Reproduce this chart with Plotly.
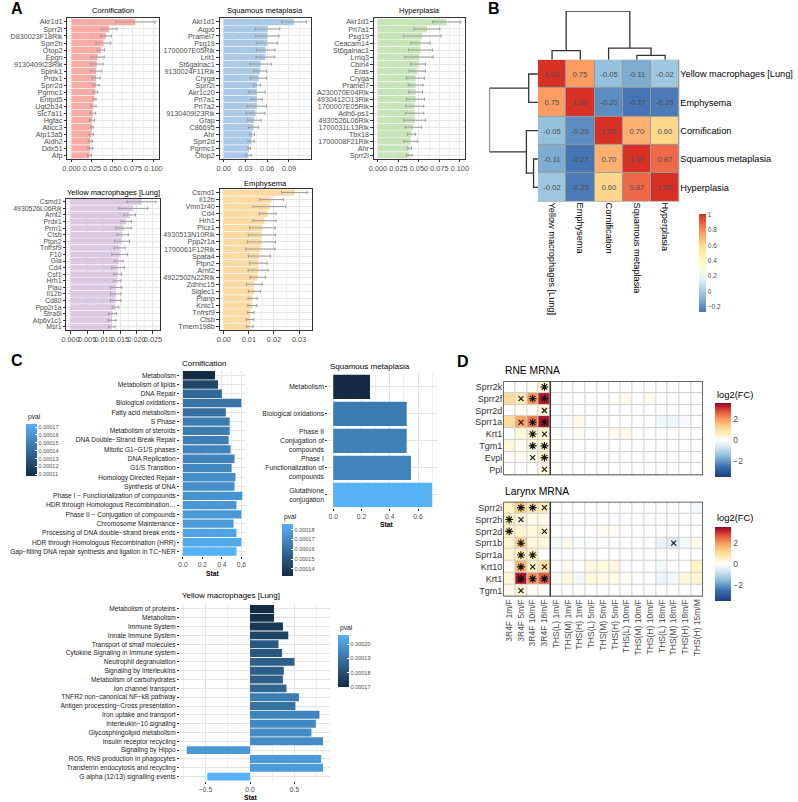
import plotly.graph_objects as go

W, H = 798, 802
FONT = "Liberation Sans, Arial, Helvetica, sans-serif"
G30 = "#4d4d4d"

# ---------------- Panel A data ----------------
corn_genes = ["Akr1d1", "Sprr2i", "D830023F18Rik", "Sprr2h", "Otop2", "Epgn", "9130409I23Rik", "Spink1",
              "Prdx1", "Sprr2d", "Pgrmc1", "Entpd5", "Ugt2b34", "Slc7a11", "Hgfac", "Abcc3", "Atp13a5",
              "Aldh2", "Ddx51", "Afp"]
corn_mean = [0.078, 0.046, 0.042, 0.039, 0.036, 0.032, 0.031, 0.030, 0.030, 0.030, 0.029, 0.028, 0.027,
             0.026, 0.025, 0.025, 0.024, 0.023, 0.023, 0.022]
corn_sd = [0.024, 0.0096, 0.0066, 0.009, 0.0044, 0.008, 0.0076, 0.007, 0.005, 0.004, 0.003, 0.002, 0.003,
           0.0035, 0.003, 0.0015, 0.0026, 0.0026, 0.003, 0.0024]

sq_genes = ["Akr1d1", "Aqp6", "Pramel7", "Psg19", "1700007E05Rik", "Lrit1", "St6galnac1", "9130024F11Rik",
            "Cryga", "Sprr2i", "Akr1c20", "Prl7a1", "Prl7a2", "9130409I23Rik", "Gfap", "C86695", "Ahr",
            "Sprr2d", "Pgrmc1", "Otop2"]
sq_mean = [0.097, 0.0605, 0.0600, 0.0595, 0.058, 0.0575, 0.051, 0.050, 0.048, 0.046, 0.0458, 0.0457, 0.0456,
           0.0439, 0.0419, 0.0412, 0.0392, 0.038, 0.0352, 0.034]
sq_sd = [0.017, 0.0168, 0.0163, 0.0146, 0.0128, 0.0128, 0.0146, 0.009, 0.0112, 0.005, 0.0112, 0.0078, 0.0134,
         0.013, 0.0096, 0.0067, 0.0034, 0.0045, 0.0016, 0.004]

hyp_genes = ["Akr1d1", "Prl7a1", "Psg19", "Ceacam14", "St6galnac1", "Lrriq3", "Cbln4", "Eras", "Cryga",
             "Pramel7", "A230070E04Rik", "4930412O13Rik", "1700007E05Rik", "Adh6-ps1", "4930526L06Rik",
             "1700031L13Rik", "Tbx18", "1700008F21Rik", "Ahr", "Sprr2i"]
hyp_mean = [0.084, 0.060, 0.054, 0.052, 0.052, 0.050, 0.049, 0.048, 0.046, 0.046, 0.046, 0.046, 0.045, 0.045,
            0.045, 0.043, 0.041, 0.040, 0.0385, 0.0385]
hyp_sd = [0.017, 0.0157, 0.023, 0.012, 0.0145, 0.0175, 0.009, 0.010, 0.011, 0.009, 0.0085, 0.011, 0.011,
          0.011, 0.013, 0.010, 0.005, 0.0085, 0.0025, 0.0035]

yel_genes = ["Csmd1", "4930526L06Rik", "Arnt2", "Prdx1", "Prrn1", "Ctsb", "Ptpn2", "Tnfrsf9", "F10", "Gla",
             "Cd4", "Csf1", "Hrh1", "Plau", "Il12b", "Cd80", "Ppp2r1a", "Stra6l", "Atp6v1c1", "Msr1"]
yel_mean = [0.0215, 0.0190, 0.0179, 0.0169, 0.0161, 0.0158, 0.0156, 0.0149, 0.0149, 0.0146, 0.0144, 0.0143,
            0.0142, 0.0138, 0.0137, 0.0137, 0.0136, 0.0127, 0.0126, 0.0125]
yel_sd = [0.0044, 0.0044, 0.0018, 0.0016, 0.0023, 0.0017, 0.0023, 0.0016, 0.0024, 0.0013, 0.0019, 0.0012,
          0.0011, 0.0017, 0.0016, 0.0016, 0.0010, 0.0012, 0.0012, 0.0010]

emph_genes = ["Csmd1", "Il12b", "Vmn1r40", "Cd4", "Hrh1", "Plcz1", "4930513N10Rik", "Ppp2r1a",
              "1700061F12Rik", "Spata4", "Ptpn2", "Arnt2", "4922502N22Rik", "Zdhhc15", "Siglec1", "Pianp",
              "Kntc1", "Tnfrsf9", "Ctsb", "Tmem198b"]
emph_mean = [0.0282, 0.0190, 0.0182, 0.0175, 0.0162, 0.0154, 0.0152, 0.0150, 0.0146, 0.0142, 0.0138, 0.0137,
             0.0135, 0.0122, 0.0122, 0.0115, 0.0114, 0.0107, 0.0105, 0.0104]
emph_sd = [0.0051, 0.0048, 0.0065, 0.0033, 0.0046, 0.0051, 0.0054, 0.0056, 0.0059, 0.0044, 0.0035, 0.0040,
           0.0031, 0.0031, 0.0024, 0.0018, 0.0018, 0.0013, 0.0015, 0.0013]

# ---------------- Panel B data ----------------
b_labels = ["Yellow macrophages [Lung]", "Emphysema", "Cornification", "Squamous metaplasia", "Hyperplasia"]
b_corr = [[1.00, 0.75, -0.05, -0.11, -0.02],
          [0.75, 1.00, -0.20, -0.27, -0.25],
          [-0.05, -0.20, 1.00, 0.70, 0.60],
          [-0.11, -0.27, 0.70, 1.00, 0.87],
          [-0.02, -0.25, 0.60, 0.87, 1.00]]
# merges: (left id, right id, height); ids >= 5 refer to earlier merges
b_merges = [(0, 1, 0.19), (3, 4, 0.09), (2, 6, 0.238), (5, 7, 1.0)]
b_ticks = [1, 0.8, 0.6, 0.4, 0.2, 0, -0.2]

# ---------------- Panel C data ----------------
c1_terms = ["Metabolism", "Metabolism of lipids", "DNA Repair", "Biological oxidations", "Fatty acid metabolism",
            "S Phase", "Metabolism of steroids", "DNA Double\u2212Strand Break Repair", "Mitotic G1\u2212G1/S phases",
            "DNA Replication", "G1/S Transition", "Homology Directed Repair", "Synthesis of DNA",
            "Phase I \u2212 Functionalization of compounds", "HDR through Homologous Recombination\u2026",
            "Phase II \u2212 Conjugation of compounds", "Chromosome Maintenance",
            "Processing of DNA double\u2212strand break ends", "HDR through Homologous Recombination (HRR)",
            "Gap\u2212filling DNA repair synthesis and ligation in TC\u2212NER"]
c1_stat = [0.33, 0.36, 0.40, 0.60, 0.44, 0.48, 0.48, 0.47, 0.49, 0.53, 0.50, 0.54, 0.53, 0.61, 0.55, 0.60,
           0.52, 0.55, 0.60, 0.55]
c1_pval = [0.000108, 0.000121, 0.000138, 0.000144, 0.000141, 0.000148, 0.000148, 0.000149, 0.000152, 0.000152,
           0.000154, 0.000157, 0.000157, 0.000159, 0.000161, 0.000162, 0.000163, 0.000167, 0.000170, 0.000174]
c1_ticks = [0.00011, 0.00012, 0.00013, 0.00014, 0.00015, 0.00016, 0.00017]

c2_terms = ["Metabolism", "Biological oxidations", "Phase II<br>Conjugation of<br>compounds",
            "Phase I<br>Functionalization of<br>compounds", "Glutathione<br>conjugation"]
c2_stat = [0.26, 0.52, 0.52, 0.55, 0.70]
c2_pval = [0.000133, 0.000165, 0.000167, 0.000168, 0.000186]
c2_ticks = [0.00014, 0.00015, 0.00016, 0.00017, 0.00018]

c3_terms = ["Metabolism of proteins", "Metabolism", "Immune System", "Innate Immune System",
            "Transport of small molecules", "Cytokine Signaling in Immune system", "Neutrophil degranulation",
            "Signaling by Interleukins", "Metabolism of carbohydrates", "Ion channel transport",
            "TNFR2 non\u2212canonical NF\u2212kB pathway", "Antigen processing\u2212Cross presentation",
            "Iron uptake and transport", "Interleukin\u221210 signaling", "Glycosphingolipid metabolism",
            "Insulin receptor recycling", "Signaling by Hippo", "ROS, RNS production in phagocytes",
            "Transferrin endocytosis and recycling", "G alpha (12/13) signalling events"]
c3_stat = [0.27, 0.27, 0.37, 0.43, 0.32, 0.36, 0.50, 0.38, 0.37, 0.41, 0.55, 0.51, 0.78, 0.74, 0.69, 0.82,
           -0.71, 0.80, 0.82, -0.48]
c3_pval = [0.000170, 0.000171, 0.000173, 0.000177, 0.000182, 0.000182, 0.000184, 0.000184, 0.000184, 0.000186,
           0.000192, 0.000189, 0.000194, 0.000195, 0.000196, 0.000196, 0.000199, 0.000200, 0.000200, 0.000206]
c3_ticks = [0.00017, 0.00018, 0.00019, 0.00020]

# ---------------- Panel D data ----------------
d_cols = ["3R4F 1m/F", "3R4F 5m/F", "3R4F 10m/F", "3R4F 18m/F", "THS(L) 1m/F", "THS(M) 1m/F", "THS(H) 1m/F",
          "THS(L) 5m/F", "THS(M) 5m/F", "THS(H) 5m/F", "THS(L) 10m/F", "THS(M) 10m/F", "THS(H) 10m/F",
          "THS(L) 18m/F", "THS(M) 18m/F", "THS(H) 18m/F", "THS(H) 15m/M"]
rne_genes = ["Sprr2k", "Sprr2f", "Sprr2d", "Sprr1a", "Krt1", "Tgm1", "Evpl", "Ppl"]
rne_fc = [
    [0, 0, 0.05, 0.4, 0, 0, 0, 0, 0, 0, 0, 0, 0, 0, 0, 0, 0],
    [1.0, 0.7, 2.0, 3.2, 0, 0, 0, 0, 0, 0.05, 0.15, 0, 0.15, 0, 0, 0, 0],
    [0, 0.1, 0.1, 0.35, -0.05, 0, 0, 0, 0, 0, 0, 0, 0, 0, 0, 0, 0],
    [1.0, 1.8, 2.3, 3.3, -0.15, -0.1, 0.2, -0.1, 0, 0, 0, 0, 0, -0.2, -0.25, -0.15, 0],
    [0, 0.3, 0.5, 0.4, 0, 0, 0.1, 0, 0, 0.15, 0.2, 0, 0, 0, 0, 0, 0],
    [0.35, 0.1, 0.3, 0.4, 0, 0, 0, 0, 0, 0, 0, 0, 0, 0, 0, 0, 0],
    [0.1, 0.1, 0.1, 0.5, 0, 0, 0, 0, 0, 0, 0, 0, 0, 0, 0, 0, 0],
    [0, 0, 0, 0.25, 0, 0, 0, 0, 0, 0, 0, 0, 0, 0, 0, 0, 0],
]
rne_sig = ["...*.............", ".x**.............", "...x.............", ".x**.............",
           "..*x.............", "..**.............", "..x*.............", "...x............."]

lar_genes = ["Sprr2i", "Sprr2h", "Sprr2d", "Sprr1b", "Sprr1a", "Krt10", "Krt1", "Tgm1"]
lar_fc = [
    [0.5, 1.3, 0.7, 0.6, 0, 0, 0, 0, 0, 0, 0, 0, 0, 0, 0, 0, -0.2],
    [0.6, 0.3, 0.2, 0.2, 0, 0, 0, 0, 0, 0, 0, 0, 0, 0, 0, 0, 0],
    [0.5, 0.4, 0.3, 0.4, 0, 0, 0, 0, 0.1, 0.1, 0, 0, 0, 0, 0, 0, 0],
    [0.4, 1.3, 0.3, 0.3, -0.15, 0.2, -0.1, 0, 0, 0, 0, 0, 0, -0.35, -0.5, -0.2, 0.2],
    [0.4, 0.6, 0.5, 0.05, 0, 0, 0, 0, 0, 0, 0, 0, 0, 0, 0, 0, 0],
    [0.15, 1.6, 0.5, 0.9, 0, 0.15, 0, 0.25, 0.3, 0.25, -0.1, 0, 0, -0.2, 0, 0, 0.5],
    [0.35, 3.3, 2.1, 2.6, 0.1, 0.3, -0.2, 0.3, 0.2, 0.2, 0.1, 0, 0, -0.3, -0.2, 0.3, 0.4],
    [0.2, 0.4, 0.1, 0.05, 0, 0, 0, 0, 0, 0, 0, 0, 0, 0, 0, 0, 0],
]
lar_sig = [".**x.............", "*x...............", "*..x.............", ".*............x..",
           ".**..............", ".*xx.............", ".***.............", ".x..............."]
d_ticks = [-2, 0, 2]

# ---------------- helpers ----------------
def xd(x0, x1):
    return [x0 / W, x1 / W]

def yd(y0, y1):
    return [1 - y1 / H, 1 - y0 / H]

def px(x):
    return x / W

def py(y):
    return 1 - y / H

def axn(n):
    return ("xaxis" if n == 1 else f"xaxis{n}", "yaxis" if n == 1 else f"yaxis{n}")

def refn(n):
    return ("x" if n == 1 else f"x{n}", "y" if n == 1 else f"y{n}")

fig = go.Figure()
lay = dict(width=W, height=H, margin=dict(l=0, r=0, t=0, b=0), paper_bgcolor="white",
           plot_bgcolor="white", font=dict(family=FONT), showlegend=False)
ann = []
shapes = []

def text(t, x, y, size, color="black", xanchor="left", yanchor="middle", bold=False, textangle=0):
    if bold:
        t = f"<b>{t}</b>"
    ann.append(dict(text=t, x=px(x), y=py(y), xref="paper", yref="paper", showarrow=False, xanchor=xanchor,
                    yanchor=yanchor, font=dict(size=size, color=color, family=FONT), textangle=textangle))

# ---------------- Panel A ----------------
def panel_a(n, genes, mean, sd, color, box, title, title_y, dtick, fmt, yfs):
    xr, yr = refn(n)
    xa, ya = axn(n)
    fig.add_trace(go.Bar(y=genes, x=mean, orientation="h", width=0.9,
                         marker=dict(color=color, line=dict(width=0)),
                         error_x=dict(type="data", array=sd, color="#9c9c9c", thickness=1, width=1.6),
                         xaxis=xr, yaxis=yr, hoverinfo="skip"))
    hi = max(m + s for m, s in zip(mean, sd))
    pad = 0.05 * hi
    common = dict(showline=True, linecolor="#333333", linewidth=0.8, mirror=True, ticks="outside", ticklen=2.5,
                  tickcolor="#333333", tickwidth=0.8, zeroline=False,
                  showgrid=True, gridcolor="#e6e6e6", gridwidth=0.8)
    lay[xa] = dict(domain=xd(box[0], box[1]), range=[-pad, hi + pad], anchor=yr, dtick=dtick, tick0=0,
                   tickformat=fmt, tickangle=0, tickfont=dict(size=7.3, color=G30),
                   minor=dict(showgrid=True, gridcolor="#f0f0f0", gridwidth=0.5, dtick=dtick / 2),
                   **common)
    lay[ya] = dict(domain=yd(box[2], box[3]), anchor=xr, type="category", autorange="reversed",
                   tickmode="array", tickvals=genes, ticktext=genes, tickfont=dict(size=yfs, color=G30),
                   **common)
    text(title, (box[0] + box[1]) / 2, title_y, 7.6, xanchor="center")

panel_a(1, corn_genes, corn_mean, corn_sd, "#f9aca6", (63, 156, 17.5, 158.2), "Cornification", 10, 0.025,
        ".3f", 7.2)
panel_a(2, sq_genes, sq_mean, sq_sd, "#aac8e8", (217, 309, 17.5, 158.2), "Squamous metaplasia", 10, 0.03,
        ".2f", 7.2)
panel_a(3, hyp_genes, hyp_mean, hyp_sd, "#c6e4b8", (373, 465, 17.5, 158.2), "Hyperplasia", 10, 0.025,
        ".3f", 7.2)
panel_a(4, yel_genes, yel_mean, yel_sd, "#ddc8e1", (62, 157, 198, 330), "Yellow macrophages [Lung]", 192,
        0.005, ".3f", 6.9)
panel_a(5, emph_genes, emph_mean, emph_sd, "#fdd9a2", (217, 310, 188.5, 330), "Emphysema", 183, 0.01,
        ".2f", 7.2)

# ---------------- Panel B ----------------
hm_box = (539, 682, 59, 201)
b_scale = [[0, "#4575B4"], [1 / 6, "#91BFDB"], [2 / 6, "#E0F3F8"], [3 / 6, "#FFFFBF"], [4 / 6, "#FEE090"],
           [5 / 6, "#FC8D59"], [1, "#D73027"]]
idx = list(range(len(b_labels)))
fig.add_trace(go.Heatmap(z=b_corr, x=idx, y=idx, coloraxis="coloraxis", xgap=1, ygap=1,
                         text=[[f"{v:.2f}" for v in row] for row in b_corr], texttemplate="%{text}",
                         textfont=dict(size=7.7, color="#4d4d4d", family=FONT), xaxis="x6", yaxis="y6",
                         hoverinfo="skip"))
nb = len(b_labels)
shapes.append(dict(type="rect", xref="x6", yref="y6", x0=-0.5, x1=nb - 0.5, y0=-0.5, y1=nb - 0.5,
                   fillcolor="#9a9a9a", line=dict(width=1, color="#9a9a9a"), layer="below"))
lay["xaxis6"] = dict(domain=xd(hm_box[0], hm_box[1]), range=[-0.5, nb - 0.5], anchor="y6", tickvals=idx,
                     ticktext=b_labels, tickangle=90, showgrid=False, zeroline=False, ticks="",
                     tickfont=dict(size=9.2, color="black"), showline=False)
lay["yaxis6"] = dict(domain=yd(hm_box[2], hm_box[3]), range=[nb - 0.5, -0.5], anchor="x6", tickvals=idx,
                     ticktext=b_labels, side="right", showgrid=False, zeroline=False, ticks="",
                     tickfont=dict(size=9.2, color="black"), showline=False)
lay["coloraxis"] = dict(colorscale=b_scale, cmin=min(min(r) for r in b_corr), cmax=max(max(r) for r in b_corr),
                        colorbar=dict(x=px(702), xanchor="left", y=py(214), yanchor="top", lenmode="pixels",
                                      len=98, thickness=7, thicknessmode="pixels", xpad=0, ypad=0,
                                      outlinewidth=0, ticks="", tickvals=b_ticks,
                                      ticktext=[("\u2212" + str(abs(t))) if t < 0 else str(t) for t in b_ticks],
                                      tickfont=dict(size=6.5, color=G30)))


def dendro(merges, n):
    pos = {i: float(i) for i in range(n)}
    hgt = {i: 0.0 for i in range(n)}
    ps, hs = [], []
    for k, (a, b, h) in enumerate(merges):
        ps += [pos[a], pos[a], pos[b], pos[b], None]
        hs += [hgt[a], h, h, hgt[b], None]
        pos[n + k] = (pos[a] + pos[b]) / 2
        hgt[n + k] = h
    return ps, hs

dp, dh = dendro(b_merges, nb)
top_h = max(m[2] for m in b_merges)
fig.add_trace(go.Scatter(x=dp, y=dh, mode="lines", line=dict(color="#333333", width=1.3), xaxis="x7",
                         yaxis="y7", hoverinfo="skip", cliponaxis=False))
fig.add_trace(go.Scatter(x=dh, y=dp, mode="lines", line=dict(color="#333333", width=1.3), xaxis="x8",
                         yaxis="y8", hoverinfo="skip", cliponaxis=False))
hidden = dict(showgrid=False, zeroline=False, showticklabels=False, ticks="", showline=False)
lay["xaxis7"] = dict(domain=xd(hm_box[0], hm_box[1]), range=[-0.5, nb - 0.5], anchor="y7", **hidden)
lay["yaxis7"] = dict(domain=yd(10, 59), range=[0, top_h], anchor="x7", **hidden)
lay["xaxis8"] = dict(domain=xd(490, 539), range=[top_h, 0], anchor="y8", **hidden)
lay["yaxis8"] = dict(domain=yd(hm_box[2], hm_box[3]), range=[nb - 0.5, -0.5], anchor="x8", **hidden)

# ---------------- Panel C ----------------
c_scale = [[0, "#132B43"], [1, "#56B1F7"]]

def panel_c(n, terms, stat, pval, box, cax, dtick, title, title_xy, stat_xy, tickfs):
    xr, yr = refn(n)
    xa, ya = axn(n)
    fig.add_trace(go.Bar(y=terms, x=stat, orientation="h", width=0.9,
                         marker=dict(color=pval, coloraxis=cax, line=dict(width=0)),
                         xaxis=xr, yaxis=yr, hoverinfo="skip"))
    lo = min(0, min(stat))
    hi = max(0, max(stat))
    pad = 0.05 * (hi - lo)
    lay[xa] = dict(domain=xd(box[0], box[1]), range=[lo - pad, hi + pad], anchor=yr, dtick=dtick, tick0=0,
                   tickformat=".1f", tickangle=0, showgrid=True, gridcolor="#e3e3e3", gridwidth=0.8,
                   zeroline=False,
                   minor=dict(showgrid=True, gridcolor="#f1f1f1", gridwidth=0.5, dtick=dtick / 2),
                   ticks="outside", ticklen=2, tickcolor="#333333", tickwidth=0.8, showline=False,
                   tickfont=dict(size=6.7, color=G30))
    lay[ya] = dict(domain=yd(box[2], box[3]), anchor=xr, type="category", autorange="reversed",
                   tickmode="array", tickvals=terms, ticktext=terms,
                   showgrid=True, gridcolor="#e3e3e3", gridwidth=0.8, zeroline=False, ticks="outside",
                   ticklen=2, tickcolor="#333333", tickwidth=0.8, showline=False,
                   tickfont=dict(size=tickfs, color="#1a1a1a"))
    text(title, title_xy[0], title_xy[1], 8, xanchor="left")
    text("Stat", stat_xy[0], stat_xy[1], 6.7, xanchor="center", bold=True)

def c_legend(cax, pval, ticks, x, top, length):
    lay[cax] = dict(colorscale=c_scale, cmin=min(pval), cmax=max(pval),
                    colorbar=dict(x=px(x), xanchor="left", y=py(top), yanchor="top", lenmode="pixels",
                                  len=length, thickness=11, thicknessmode="pixels", xpad=0, ypad=0,
                                  outlinewidth=0, ticks="inside", ticklen=2, tickcolor="white",
                                  tickvals=ticks, ticktext=[f"{t:.5f}" for t in ticks],
                                  tickfont=dict(size=5.5, color=G30)))
    text("pval", x, top - 7, 6.7, color="#1a1a1a")

panel_c(9, c1_terms, c1_stat, c1_pval, (177, 243, 370.5, 556.5), "coloraxis2", 0.2, "Cornification",
        (177, 363), (210, 574), 6.6)
c_legend("coloraxis2", c1_pval, c1_ticks, 21, 424, 52)
panel_c(10, c2_terms, c2_stat, c2_pval, (327, 437, 373.4, 508.6), "coloraxis3", 0.2, "Squamous metaplasia",
        (327, 366), (386, 525), 6.8)
c_legend("coloraxis3", c2_pval, c2_ticks, 280, 524, 52)
panel_c(11, c3_terms, c3_stat, c3_pval, (177, 328.5, 605, 782), "coloraxis4", 0.5, "Yellow macrophages [Lung]",
        (177, 596), (248, 798), 6.6)
c_legend("coloraxis4", c3_pval, c3_ticks, 337, 636, 52)

# ---------------- Panel D ----------------
d_scale = [[0, "#213f7a"], [0.14, "#3a6fb0"], [0.28, "#8fbcdc"], [0.42, "#dcebf5"], [0.5, "#ffffff"],
           [0.58, "#fff1bd"], [0.68, "#fdd08a"], [0.78, "#f99d59"], [0.88, "#e4573a"], [0.95, "#bf1e2d"],
           [1, "#8b0a26"]]

def panel_d(n, genes, fc, sig, box, cax, title, title_y, cb_top, show_x):
    xr, yr = refn(n)
    xa, ya = axn(n)
    nc, nr = len(d_cols), len(genes)
    fig.add_trace(go.Heatmap(z=fc, x=list(range(nc)), y=list(range(nr)), coloraxis=cax, xgap=1, ygap=1,
                             xaxis=xr, yaxis=yr, hoverinfo="skip"))
    for sym, msym, size in (("*", "asterisk-open", 6.5), ("x", "x-thin-open", 5)):
        xs, ys = [], []
        for r, s in enumerate(sig):
            for c, ch in enumerate(s):
                if ch == sym:
                    xs.append(c)
                    ys.append(r)
        fig.add_trace(go.Scatter(x=xs, y=ys, mode="markers", xaxis=xr, yaxis=yr, hoverinfo="skip",
                                 marker=dict(symbol=msym, size=size, color="#111111",
                                             line=dict(width=1.1, color="#111111"))))
    shapes.append(dict(type="rect", xref=xr, yref=yr, x0=-0.5, x1=nc - 0.5, y0=-0.5, y1=nr - 0.5,
                       fillcolor="#cfcfcf", line=dict(width=0), layer="below"))
    shapes.append(dict(type="rect", xref=xr, yref=yr, x0=-0.5, x1=nc - 0.5, y0=-0.5, y1=nr - 0.5,
                       fillcolor="rgba(0,0,0,0)", line=dict(width=1.4, color="#333333"), layer="above"))
    shapes.append(dict(type="line", xref=xr, yref=yr, x0=3.5, x1=3.5, y0=-0.5, y1=nr - 0.5,
                       line=dict(width=1.4, color="#333333"), layer="above"))
    lay[xa] = dict(domain=xd(box[0], box[1]), range=[-0.5, nc - 0.5], anchor=yr, tickvals=list(range(nc)),
                   ticktext=d_cols, tickangle=-90, showticklabels=show_x, showgrid=False, zeroline=False,
                   ticks="", showline=False, tickfont=dict(size=8.5, color=G30))
    lay[ya] = dict(domain=yd(box[2], box[3]), range=[nr - 0.5, -0.5], anchor=xr, tickvals=list(range(nr)),
                   ticktext=genes, showgrid=False, zeroline=False, ticks="", showline=False,
                   tickfont=dict(size=9, color="#333333"))
    lay[cax] = dict(colorscale=d_scale, cmin=-3.5, cmax=3.5,
                    colorbar=dict(x=px(718), xanchor="left", y=py(cb_top), yanchor="top", lenmode="pixels",
                                  len=74, thickness=16, thicknessmode="pixels", xpad=0, ypad=0, outlinewidth=0,
                                  ticks="", tickvals=d_ticks,
                                  ticktext=[("\u2212" + str(abs(t))) if t < 0 else str(t) for t in d_ticks],
                                  tickfont=dict(size=8.5, color=G30)))
    text(title, box[0], title_y, 10.3)
    text("log2(FC)", 718, cb_top - 9, 9.4)

panel_d(12, rne_genes, rne_fc, rne_sig, (504, 706, 381, 475.5), "coloraxis5", "RNE MRNA", 370, 403, False)
panel_d(13, lar_genes, lar_fc, lar_sig, (504, 706, 502, 597), "coloraxis6", "Larynx MRNA", 492, 527, True)

# ---------------- panel letters ----------------
for letter, x, y in (("A", 4, 8), ("B", 486, 8), ("C", 4, 360), ("D", 455, 361)):
    text(letter, x, y, 16, bold=True)

lay["annotations"] = ann
lay["shapes"] = shapes
fig.update_layout(**lay)
fig.write_html("out.html", config={"displayModeBar": False},
               post_script="document.body.style.margin='0px';")
